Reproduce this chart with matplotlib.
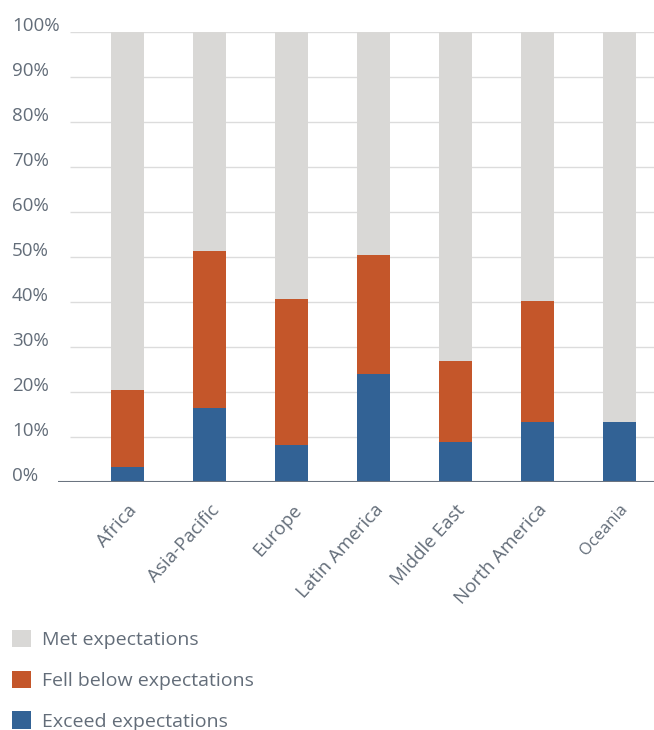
import matplotlib
matplotlib.use("Agg")
import matplotlib.pyplot as plt
import matplotlib.transforms as mtransforms
import numpy as np

plt.rcParams['font.family'] = ['Open Sans', 'DejaVu Sans']

regions = ["Africa", "Asia-Pacific", "Europe", "Latin America", "Middle East", "North America", "Oceania"]
exceed = [3.4, 16.5, 8.3, 24.1, 9.0, 13.4, 13.4]
fell_below = [17.1, 34.8, 32.4, 26.3, 17.9, 26.8, 0.0]
met = [100 - e - f for e, f in zip(exceed, fell_below)]
series_names = ["Met expectations", "Fell below expectations", "Exceed expectations"]
yticks = [0, 10, 20, 30, 40, 50, 60, 70, 80, 90, 100]
ytick_labels = ["0%", "10%", "20%", "30%", "40%", "50%", "60%", "70%", "80%", "90%", "100%"]

c_met = "#d9d8d6"
c_fell = "#c4562a"
c_exc = "#326295"
txt = "#636d79"

W, H = 654, 730
fig = plt.figure(figsize=(W / 100, H / 100), dpi=100)
ax = fig.add_axes([58 / W, (H - 482) / H, (654 - 58) / W, 450 / H])

x = np.arange(len(regions))
bw = 0.40
b_exc = ax.bar(x, exceed, bw, color=c_exc, zorder=3)
b_fell = ax.bar(x, fell_below, bw, bottom=exceed, color=c_fell, zorder=3)
b_met = ax.bar(x, met, bw, bottom=np.array(exceed) + np.array(fell_below), color=c_met, zorder=3)

xl, xr = -0.848, 6.42
ax.set_xlim(xl, xr)
ax.set_ylim(0, 100)
for s in ax.spines.values():
    s.set_visible(False)
ax.set_yticks(yticks)
ax.set_yticklabels([])
ax.tick_params(axis='both', length=0)
grid_start = xl + 12 / 82
ax.hlines(yticks[1:], grid_start, xr, color="#dcdcdc", linewidth=1.0, zorder=0)
ax.axhline(0, color="#6b7480", linewidth=1.5, zorder=4)

# y labels, left-aligned
trans = mtransforms.blended_transform_factory(fig.transFigure, ax.transData)
off = mtransforms.ScaledTranslation(0, 6 / 100, fig.dpi_scale_trans)
for v, lab in zip(yticks, ytick_labels):
    ax.text(12 / W, v, lab, transform=trans + off, ha='left', va='center',
            fontsize=13.5, color=txt)

# x labels
ax.set_xticks(x)
ax.set_xticklabels([])
xtrans = mtransforms.blended_transform_factory(ax.transData, ax.transAxes)
for i, r in enumerate(regions):
    fs = 12 if r == "Oceania" else 13.5
    xoff = mtransforms.ScaledTranslation(0 / 100, -19 / 100, fig.dpi_scale_trans)
    ax.text(i, 0, r, transform=xtrans + xoff, rotation=48, ha='right', va='top',
            rotation_mode='anchor', fontsize=fs, color=txt)

leg = fig.legend([b_met, b_fell, b_exc], series_names, loc='upper left',
                 bbox_to_anchor=(4 / W, (H - 622) / H), frameon=False,
                 fontsize=14, handlelength=1.0, handleheight=1.0,
                 labelspacing=1.1, handletextpad=0.55, borderaxespad=0)
for t in leg.get_texts():
    t.set_color(txt)

fig.savefig("out.png", dpi=100)
